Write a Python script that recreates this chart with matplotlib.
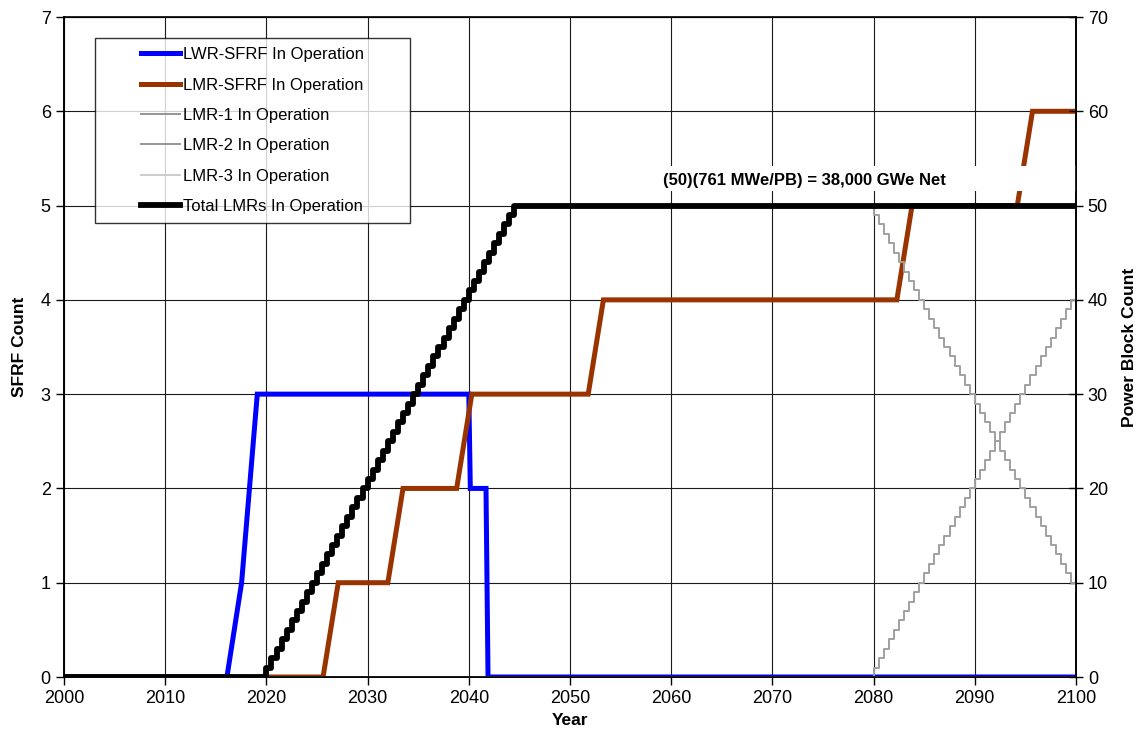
import matplotlib
matplotlib.use("Agg")
import matplotlib.pyplot as plt
from matplotlib.patches import Rectangle
from matplotlib.legend_handler import HandlerLine2D
from matplotlib.lines import Line2D

plt.rcParams['font.family'] = ['Liberation Sans', 'DejaVu Sans']

# ---------------- data ----------------
# LWR-SFRF count (left axis)
lwr_years = [2000, 2016.1, 2017.55, 2019.1, 2040.0, 2040.15, 2041.7, 2041.9, 2100]
lwr_count = [0, 0, 1, 3, 3, 2, 2, 0, 0]

# LMR-SFRF count (left axis)
lmr_sfrf_years = [2020, 2025.6, 2027.1, 2032.0, 2033.5, 2038.8, 2040.3, 2051.8,
                  2053.3, 2082.3, 2083.8, 2094.2, 2095.7, 2100]
lmr_sfrf_count = [0, 0, 1, 1, 2, 2, 3, 3, 4, 4, 5, 5, 6, 6]

# Power block build-up (right axis), one step every half year
buildup_years = [2000, 2020.0, 2020.5, 2021.0, 2021.5, 2022.0, 2022.5, 2023.0, 2023.5,
                 2024.0, 2024.5, 2025.0, 2025.5, 2026.0, 2026.5, 2027.0, 2027.5,
                 2028.0, 2028.5, 2029.0, 2029.5, 2030.0, 2030.5, 2031.0, 2031.5,
                 2032.0, 2032.5, 2033.0, 2033.5, 2034.0, 2034.5, 2035.0, 2035.5,
                 2036.0, 2036.5, 2037.0, 2037.5, 2038.0, 2038.5, 2039.0, 2039.5,
                 2040.0, 2040.5, 2041.0, 2041.5, 2042.0, 2042.5, 2043.0, 2043.5,
                 2044.0, 2044.5]
buildup_count = [0, 1, 2, 3, 4, 5, 6, 7, 8, 9, 10, 11, 12, 13, 14, 15, 16, 17, 18, 19,
                 20, 21, 22, 23, 24, 25, 26, 27, 28, 29, 30, 31, 32, 33, 34, 35, 36,
                 37, 38, 39, 40, 41, 42, 43, 44, 45, 46, 47, 48, 49, 50]

# Replacement period (right axis), one step every half year
replace_years = [2080.0, 2080.5, 2081.0, 2081.5, 2082.0, 2082.5, 2083.0, 2083.5,
                 2084.0, 2084.5, 2085.0, 2085.5, 2086.0, 2086.5, 2087.0, 2087.5,
                 2088.0, 2088.5, 2089.0, 2089.5, 2090.0, 2090.5, 2091.0, 2091.5,
                 2092.0, 2092.5, 2093.0, 2093.5, 2094.0, 2094.5, 2095.0, 2095.5,
                 2096.0, 2096.5, 2097.0, 2097.5, 2098.0, 2098.5, 2099.0, 2099.5,
                 2100.0]
lmr1_retire = [49, 48, 47, 46, 45, 44, 43, 42, 41, 40, 39, 38, 37, 36, 35, 34, 33,
               32, 31, 30, 29, 28, 27, 26, 25, 24, 23, 22, 21, 20, 19, 18, 17, 16,
               15, 14, 13, 12, 11, 10, 9]
lmr2_build = [1, 2, 3, 4, 5, 6, 7, 8, 9, 10, 11, 12, 13, 14, 15, 16, 17, 18, 19, 20,
              21, 22, 23, 24, 25, 26, 27, 28, 29, 30, 31, 32, 33, 34, 35, 36, 37, 38,
              39, 40, 41]

lmr1_years = buildup_years + replace_years
lmr1_count = buildup_count + lmr1_retire
lmr2_years = [2000] + replace_years
lmr2_count = [0] + lmr2_build
lmr3_years = [2000, 2100]
lmr3_count = [0, 0]
total_years = buildup_years + [2100]
total_count = buildup_count + [50]

x_ticks = [2000, 2010, 2020, 2030, 2040, 2050, 2060, 2070, 2080, 2090, 2100]
left_ticks = [0, 1, 2, 3, 4, 5, 6, 7]
right_ticks = [0, 10, 20, 30, 40, 50, 60, 70]

labels = ["LWR-SFRF In Operation", "LMR-SFRF In Operation", "LMR-1 In Operation",
          "LMR-2 In Operation", "LMR-3 In Operation", "Total LMRs In Operation"]
note = "(50)(761 MWe/PB) = 38,000 GWe Net"

# ---------------- figure ----------------
fig = plt.figure(figsize=(11.38, 7.38), dpi=100)
ax = fig.add_axes([64 / 1138, 1 - 677 / 738, 1012 / 1138, 660 / 738])
ax2 = ax.twinx()

blue, brown = "#0000ff", "#993300"
ax.plot(lwr_years, lwr_count, color=blue, lw=3.6, zorder=3, solid_joinstyle='miter')
ax.plot(lmr_sfrf_years, lmr_sfrf_count, color=brown, lw=3.6, zorder=3,
        solid_joinstyle='miter')

ax2.plot(lmr3_years, lmr3_count, color="#c8c8c8", lw=1.3, drawstyle='steps-post')
ax2.plot(lmr2_years, lmr2_count, color="#a0a0a0", lw=1.4, drawstyle='steps-post')
ax2.plot(lmr1_years, lmr1_count, color="#a0a0a0", lw=1.4, drawstyle='steps-post')
ax2.plot(total_years, total_count, color="black", lw=4.2, drawstyle='steps-post')

ax.set_xlim(2000, 2100)
ax.set_ylim(0, 7)
ax2.set_ylim(0, 70)
ax.set_xticks(x_ticks)
ax.set_yticks(left_ticks)
ax2.set_yticks(right_ticks)

ax.grid(True, color="#1a1a1a", lw=0.8, zorder=1)
ax.set_axisbelow(True)

ax.tick_params(axis='both', direction='out', length=6, width=1, labelsize=13, colors='black')
ax2.tick_params(axis='y', direction='inout', length=10, width=1, labelsize=13)
for sp in ['left', 'bottom', 'right']:
    ax2.spines[sp].set_linewidth(1.2)
ax2.spines['top'].set_linewidth(0.8)
for sp in ax.spines.values():
    sp.set_linewidth(1.2)

ax.set_xlabel("Year", fontsize=12.5, fontweight='bold', labelpad=4)
ax.set_ylabel("SFRF Count", fontsize=12.5, fontweight='bold', labelpad=10)
ax2.set_ylabel("Power Block Count", fontsize=12.5, fontweight='bold', labelpad=10)

# annotation with white box
ax.add_patch(Rectangle((2058.9, 5.15), 41.1, 0.27, facecolor='white', edgecolor='none',
                       zorder=4))
ax.text(2059.2, 5.27, note, fontsize=12, fontweight='bold', va='center', ha='left',
        zorder=5)

# legend
handles = [Line2D([], [], color=blue, lw=3.6),
           Line2D([], [], color=brown, lw=3.6),
           Line2D([], [], color="#8c8c8c", lw=1.3),
           Line2D([], [], color="#8c8c8c", lw=1.3),
           Line2D([], [], color="#c8c8c8", lw=1.3),
           Line2D([], [], color="black", lw=4.2)]
hmap = {h: HandlerLine2D(xpad=2.2) for h in handles}
leg = ax2.legend(handles, labels, loc='upper left', mode='expand',
                 bbox_to_anchor=(0.0306, 0.3, 0.311, 0.668), borderaxespad=0,
                 fontsize=12, frameon=True, fancybox=False, borderpad=0.55,
                 handlelength=4.55, handletextpad=0.2, labelspacing=0.92,
                 handler_map=hmap)
leg.get_frame().set_edgecolor('black')
leg.get_frame().set_linewidth(1.0)
leg.set_zorder(10)

fig.savefig("out.png", dpi=100)
